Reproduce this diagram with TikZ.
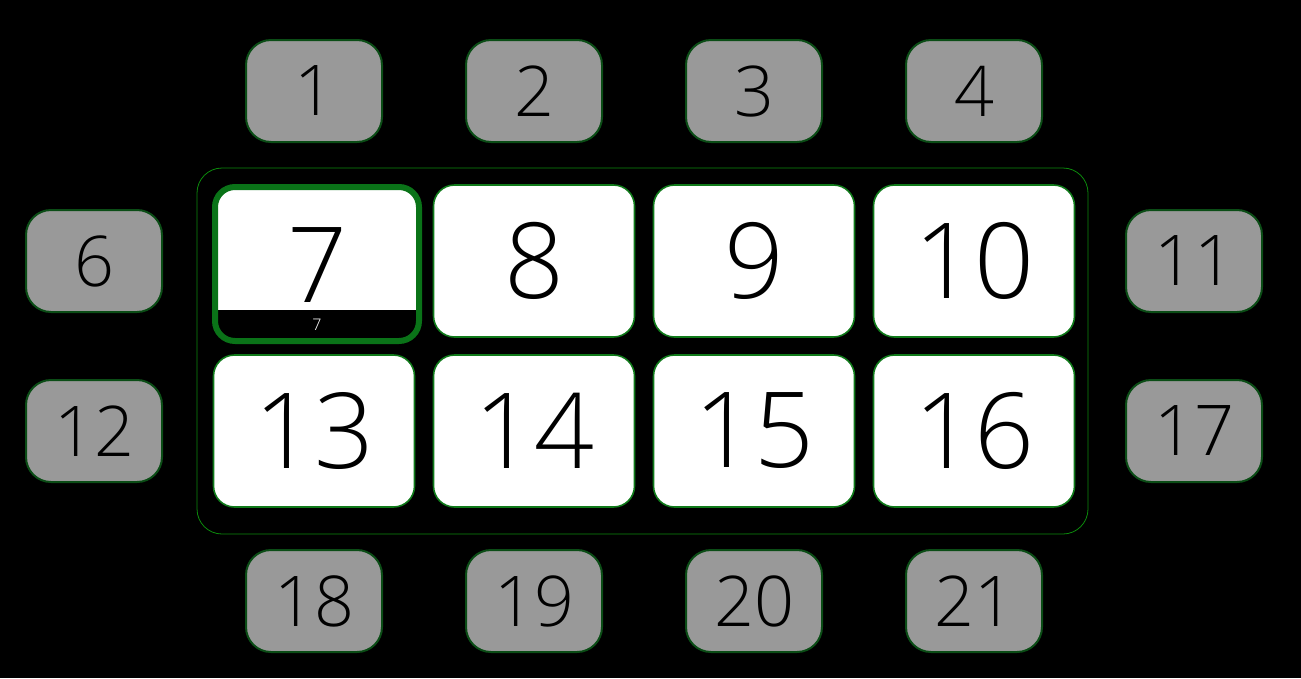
\documentclass[tikz,border=0pt]{standalone}
\usepackage{fontspec}
\setmainfont{Open Sans Light}
\usepackage{tikz}
\usepackage{xcolor}
\usetikzlibrary{positioning}

\definecolor{tilegray}{HTML}{999999}
\definecolor{edgegreen}{HTML}{0B4D16}
\definecolor{cardgreen}{HTML}{107A1A}
\definecolor{focusgreen}{HTML}{0A7318}
\definecolor{framegreen}{HTML}{0C8A0C}

\begin{document}
\begin{tikzpicture}
[x=1pt,y=-1pt,
 key/.style={draw=edgegreen,line width=2pt,fill=tilegray,rounded corners=25pt,
   minimum width=136pt,minimum height=102pt,inner sep=0pt,
   font=\fontsize{70}{80}\selectfont},
 card/.style={draw=cardgreen,line width=1.6pt,fill=white,rounded corners=21pt,
   minimum width=201pt,minimum height=152pt,inner sep=0pt,
   font=\fontsize{105}{120}\selectfont},
 label/.style={inner sep=0pt,font=\fontsize{105}{120}\selectfont}]
   \useasboundingbox[fill=black] (0,0) rectangle (1301,678);
   % outer frame
   \draw[framegreen,line width=0.8pt,rounded corners=25pt] (197,168) rectangle (1088,534);
   % grey keys
   \node[key] (k_1) at (314,91) {1};
   \node[key] (k_2) at (534,91) {2};
   \node[key] (k_3) at (754,91) {3};
   \node[key] (k_4) at (974,91) {4};
   \node[key] (k_6) at (94,261) {6};
   \node[key] (k_12) at (94,431) {12};
   \node[key] (k_11) at (1194,261) {11};
   \node[key] (k_17) at (1194,431) {17};
   \node[key] (k_18) at (314,601) {18};
   \node[key] (k_19) at (534,601) {19};
   \node[key] (k_20) at (754,601) {20};
   \node[key] (k_21) at (974,601) {21};
   % white cards
   \node[card] (k_8) at (534,261) {8};
   \node[card] (k_9) at (754,261) {9};
   \node[card] (k_10) at (974,261) {10};
   \node[card] (k_13) at (314,431) {13};
   \node[card] (k_14) at (534,431) {14};
   \node[card] (k_15) at (754,431) {15};
   \node[card] (k_16) at (974,431) {16};
   % focused card
   \fill[white,rounded corners=17pt] (215,187) rectangle (419,341);
   \begin{scope}
     \clip[rounded corners=17pt] (215,187) rectangle (419,341);
     \fill[black] (215,310) rectangle (419,341);
   \end{scope}
   \node[label] (k_7) at (317,265) {7};
   \node[inner sep=0pt,text=white,font=\fontsize{16}{18}\selectfont] (c_7) at (317,325) {7};
   \draw[focusgreen,line width=6pt,rounded corners=20pt] (215,187) rectangle (419,341);
\end{tikzpicture}
\end{document}
